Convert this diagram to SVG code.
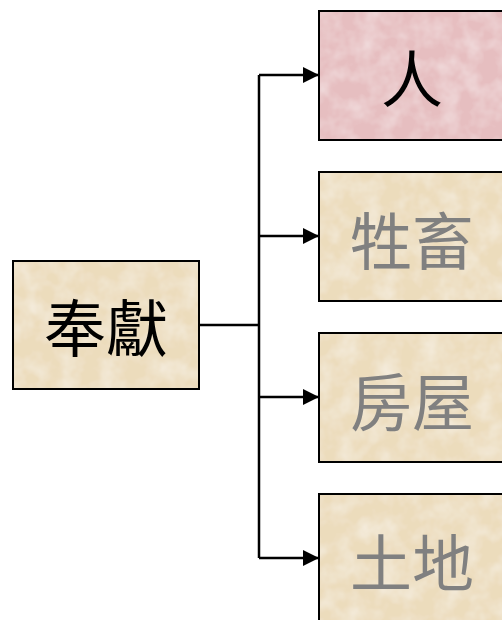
<svg xmlns="http://www.w3.org/2000/svg" width="502" height="620" viewBox="0 0 502 620">
<style>
.beige{fill:#ECDCBC;filter:url(#tex)}
.pink{fill:#E6BEC0;filter:url(#tex)}
.edge{fill:none;stroke:#000;stroke-width:2}
.t{font-family:"Noto Sans CJK TC","Noto Sans CJK SC",sans-serif;font-size:62px;text-anchor:middle;dominant-baseline:central}
.dark{fill:#000}
.gray{fill:#808080}
.conn{stroke:#000;stroke-width:2.5;fill:none}
</style>
<defs>
<filter id="tex" x="0" y="0" width="1" height="1">
<feTurbulence type="fractalNoise" baseFrequency="0.05" numOctaves="3" seed="4" result="n"/>
<feColorMatrix in="n" type="matrix" values="0 0 0 0 1  0 0 0 0 1  0 0 0 0 1  0.7 0 0 0 -0.25" result="w"/>
<feComposite in="w" in2="SourceGraphic" operator="in" result="wm"/>
<feMerge><feMergeNode in="SourceGraphic"/><feMergeNode in="wm"/></feMerge>
</filter>
<marker id="ah" markerWidth="16" markerHeight="16" refX="16" refY="8" orient="auto" markerUnits="userSpaceOnUse">
<path d="M0,0 L16,8 L0,16 Z" fill="#000"/>
</marker>
</defs>
<rect width="502" height="620" fill="#fff"/>
<g id="connectors">
<path class="conn" d="M199,325 H259"/>
<path class="conn" d="M259,75 V558"/>
<path class="conn" d="M259,75 H319" marker-end="url(#ah)"/>
<path class="conn" d="M259,236 H319" marker-end="url(#ah)"/>
<path class="conn" d="M259,397 H319" marker-end="url(#ah)"/>
<path class="conn" d="M259,558 H319" marker-end="url(#ah)"/>
</g>
<g id="node-fengxian">
<rect class="beige" x="13" y="261" width="186" height="128"/>
<rect class="edge" x="13" y="261" width="186" height="128"/>
<text class="t dark" x="106" y="325">奉獻</text>
</g>
<g id="node-ren">
<rect class="pink" x="319" y="11" width="190" height="129"/>
<rect class="edge" x="319" y="11" width="190" height="129"/>
<text class="t dark" x="412" y="76">人</text>
</g>
<g id="node-shengchu">
<rect class="beige" x="319" y="172" width="190" height="129"/>
<rect class="edge" x="319" y="172" width="190" height="129"/>
<text class="t gray" x="412" y="238">牲畜</text>
</g>
<g id="node-fangwu">
<rect class="beige" x="319" y="333" width="190" height="129"/>
<rect class="edge" x="319" y="333" width="190" height="129"/>
<text class="t gray" x="412" y="399">房屋</text>
</g>
<g id="node-tudi">
<rect class="beige" x="319" y="494" width="190" height="140"/>
<rect class="edge" x="319" y="494" width="190" height="140"/>
<text class="t gray" x="412" y="560">土地</text>
</g>
</svg>
